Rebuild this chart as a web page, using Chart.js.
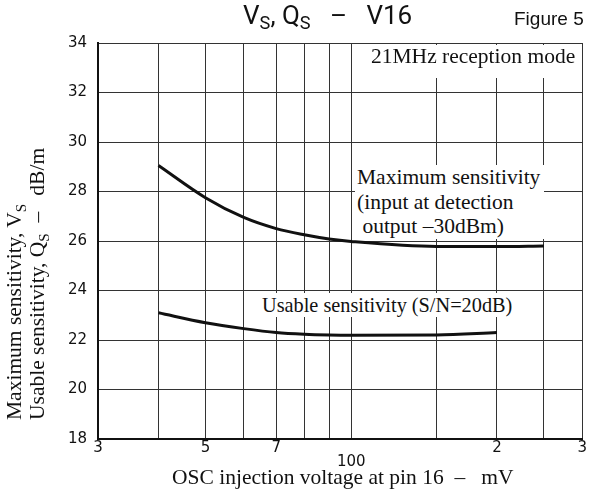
<!DOCTYPE html>
<html>
<head>
<meta charset="utf-8">
<script src="https://cdn.jsdelivr.net/npm/chart.js@4"></script>
<style>
  body { margin: 0; background: #fff; }
  #wrap { position: relative; width: 589px; height: 493px; }
  #c { position: absolute; left: 0; top: 0; }
  .t { position: absolute; white-space: nowrap; color: #111; }
  .serif { font-family: "Liberation Serif", "Times New Roman", serif; font-size: 21.5px; }
  .box { background: #fff; }
  sub { font-size: 70%; vertical-align: -5px; line-height: 0; }
</style>
</head>
<body>
<div id="wrap">
  <canvas id="c" width="589" height="493"></canvas>
  <div class="t" style="left:243px;top:0px;font-family:Roboto,'DejaVu Sans',sans-serif;font-size:26px;">V<sub>S</sub>, Q<sub>S</sub> &nbsp;&nbsp;–&nbsp;&nbsp;&nbsp;V16</div>
  <div class="t" style="left:514px;top:8px;font-family:'Liberation Sans',Arial,sans-serif;font-size:19px;">Figure 5</div>
  <div class="t serif box" style="left:358px;top:45px;width:224px;height:33px;line-height:22px;padding-left:13px;box-sizing:border-box;">21MHz reception mode</div>
  <div class="t serif box" style="left:355px;top:165px;line-height:24.5px;padding:0 4px 0 2px;">Maximum sensitivity<br>(input at detection<br>&nbsp;output –30dBm)</div>
  <div class="t serif box" style="left:259px;top:293px;line-height:24px;padding:0 3px;font-size:20.3px;">Usable sensitivity (S/N=20dB)</div>
  <div class="t serif" style="left:3px;top:420px;transform:rotate(-90deg);transform-origin:0 0;line-height:23px;">Maximum sensitivity, V<sub>S</sub><br>Usable sensitivity, Q<sub>S</sub> &nbsp;–&nbsp;&nbsp; dB/m</div>
  <div class="t serif" style="left:172px;top:465px;">OSC injection voltage at pin 16 &nbsp;–&nbsp;&nbsp;&nbsp;mV</div>
</div>
<script>
// nilai (mV, dB/m)
const maxX = [40, 50, 60, 70, 80, 90, 100, 150, 200, 250];
const maxY = [29.05, 27.75, 26.95, 26.5, 26.25, 26.08, 25.98, 25.78, 25.78, 25.8];
const useX = [40, 50, 60, 70, 80, 90, 100, 150, 200];
const useY = [23.1, 22.7, 22.46, 22.3, 22.23, 22.2, 22.19, 22.2, 22.3];

// garis grid sumbu x dan labelnya
const xTicks = [30, 40, 50, 60, 70, 80, 90, 100, 150, 200, 250, 300];
const xTickText = { 30: '3', 50: '5', 70: '7', 100: ['', '100'], 200: '2', 300: '3' };

const tickFont = { family: "'DejaVu Sans', sans-serif", size: 15, lineHeight: 0.95 };

const toPoints = (xs, ys) => xs.map((x, i) => ({ x: x, y: ys[i] }));

const ctx = document.getElementById('c').getContext('2d');
new Chart(ctx, {
  type: 'line',
  data: {
    datasets: [
      { data: toPoints(maxX, maxY), borderColor: '#111', borderWidth: 3, pointRadius: 0, cubicInterpolationMode: 'monotone' },
      { data: toPoints(useX, useY), borderColor: '#111', borderWidth: 3, pointRadius: 0, cubicInterpolationMode: 'monotone' }
    ]
  },
  options: {
    responsive: false,
    animation: false,
    layout: { padding: { left: 0, right: 3, top: 43, bottom: 0 } },
    plugins: { legend: { display: false }, tooltip: { enabled: false } },
    scales: {
      x: {
        type: 'logarithmic',
        min: 30,
        max: 300,
        afterBuildTicks: (s) => { s.ticks = xTicks.map(v => ({ value: v })); },
        afterFit: (s) => { s.height = 54; },
        ticks: {
          autoSkip: false,
          maxRotation: 0,
          padding: 2,
          color: '#111',
          font: tickFont,
          callback: (v) => xTickText[v] ?? ''
        },
        grid: { color: '#333', lineWidth: 1, drawTicks: false },
        border: { color: '#111', width: 2 }
      },
      y: {
        min: 18,
        max: 34,
        afterFit: (s) => { s.width = 98; },
        ticks: { stepSize: 2, padding: 11, color: '#111', font: { family: tickFont.family, size: 15 } },
        grid: { color: '#333', lineWidth: 1, drawTicks: false },
        border: { color: '#111', width: 2 }
      }
    }
  }
});
</script>
</body>
</html>
